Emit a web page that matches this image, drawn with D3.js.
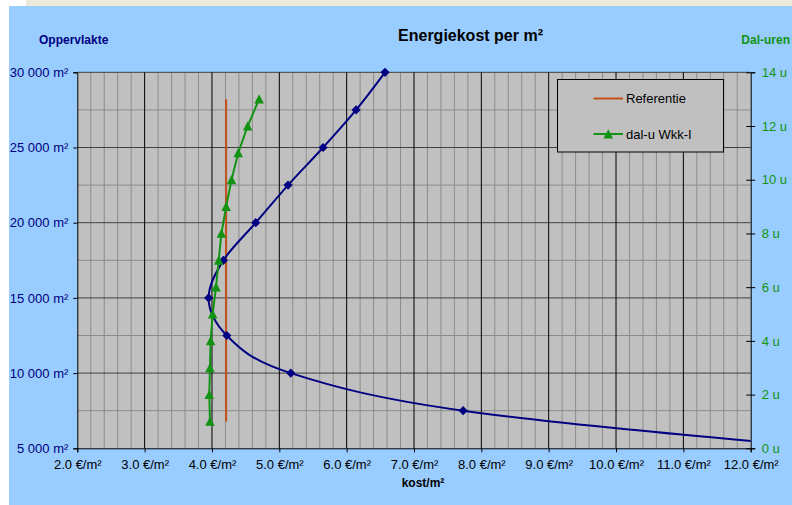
<!DOCTYPE html>
<html>
<head>
<meta charset="utf-8">
<script src="https://cdn.jsdelivr.net/npm/d3@7"></script>
<style>
  body { margin: 0; background: #fff; }
  svg { display: block; font-family: "Liberation Sans", Arial, sans-serif; }
</style>
</head>
<body>
<div class="chart"></div>
<script>
// axis ticks
const costTicks = [2, 3, 4, 5, 6, 7, 8, 9, 10, 11, 12];
const areaTicks = [5000, 10000, 15000, 20000, 25000, 30000];
const hourTicks = [0, 2, 4, 6, 8, 10, 12, 14];

// energiekost curve (left axis, m²) - last point lies off the chart to the right
const kostArea = [5000, 7500, 10000, 12500, 15000, 17500, 20000, 22500, 25000, 27500, 30000];
const kostValue = [13.2, 7.73, 5.17, 4.22, 3.95, 4.17, 4.65, 5.13, 5.65, 6.14, 6.57];

// dal-u Wkk-I (right axis, uren)
const dalHours = [1, 2, 3, 4, 5, 6, 7, 8, 9, 10, 11, 12, 13];
const dalCost = [3.97, 3.96, 3.97, 3.98, 4.01, 4.06, 4.10, 4.14, 4.21, 4.29, 4.39, 4.53, 4.70];

// Referentie (right axis)
const refHours = [1, 13];
const refCost = [4.21, 4.21];

const W = 792, H = 505;
const plot = { left: 77.3, right: 750.7, top: 72.3, bottom: 448.3 };

const navy = '#000080';
const green = '#139313';
const orange = '#C4501A';

const svg = d3.select('.chart').append('svg')
  .attr('width', W)
  .attr('height', H);

// frame like the sheet it came from
svg.append('rect').attr('x', 26).attr('y', 0).attr('width', W - 26).attr('height', 6).attr('fill', '#ECE9D8');
svg.append('rect').attr('x', 9).attr('y', 6).attr('width', W - 9).attr('height', H - 6).attr('fill', '#99CCFF');

const x = d3.scaleLinear().domain([2, 12]).range([plot.left, plot.right]);
const yL = d3.scaleLinear().domain([5000, 30000]).range([plot.bottom, plot.top]);
const yR = d3.scaleLinear().domain([0, 14]).range([plot.bottom, plot.top]);

svg.append('rect')
  .attr('x', plot.left).attr('y', plot.top)
  .attr('width', plot.right - plot.left).attr('height', plot.bottom - plot.top)
  .attr('fill', '#C0C0C0');

// grid
const grid = svg.append('g');
const minorX = d3.range(20, 121, 2).map(d => d / 10).filter(d => d % 1 !== 0);
grid.selectAll('.vminor').data(minorX).enter().append('line')
  .attr('x1', d => x(d)).attr('x2', d => x(d))
  .attr('y1', plot.top).attr('y2', plot.bottom)
  .attr('stroke', '#8c8c8c').attr('stroke-width', 1);
const hLines = d3.range(7500, 30001, 2500);
grid.selectAll('.h').data(hLines).enter().append('line')
  .attr('x1', plot.left).attr('x2', plot.right)
  .attr('y1', d => yL(d)).attr('y2', d => yL(d))
  .attr('stroke', d => d % 5000 === 0 ? '#404040' : '#8c8c8c').attr('stroke-width', 1);
grid.selectAll('.vmajor').data(costTicks.slice(1, -1)).enter().append('line')
  .attr('x1', d => x(d)).attr('x2', d => x(d))
  .attr('y1', plot.top).attr('y2', plot.bottom)
  .attr('stroke', '#000').attr('stroke-width', 1);

// axes
const fmtArea = d3.formatLocale({ decimal: '.', thousands: ' ', grouping: [3], currency: ['', ''] }).format(',');

const left = svg.append('g').attr('transform', `translate(${plot.left},0)`)
  .call(d3.axisLeft(yL).tickValues(areaTicks).tickSize(4).tickPadding(5).tickFormat(d => fmtArea(d) + ' m²'));
left.selectAll('text').attr('fill', navy).style('font-size', '13px');

const bottom = svg.append('g').attr('transform', `translate(0,${plot.bottom})`)
  .call(d3.axisBottom(x).tickValues(costTicks).tickSize(4).tickPadding(7.5).tickFormat(d => d.toFixed(1) + ' €/m²'));
bottom.selectAll('text').attr('fill', '#000').style('font-size', '13px');

const right = svg.append('g').attr('transform', `translate(${plot.right},0)`)
  .call(d3.axisRight(yR).tickValues(hourTicks).tickSize(4.5).tickPadding(6.5).tickFormat(d => d + ' u'));
right.selectAll('line').attr('x1', -4.5);
right.selectAll('text').attr('fill', green).style('font-size', '13px');

[left, bottom, right].forEach(g => {
  g.select('.domain').attr('stroke', '#000');
  g.selectAll('line').attr('stroke', '#000');
});

// series
svg.append('clipPath').attr('id', 'plotclip').append('rect')
  .attr('x', plot.left).attr('y', plot.top)
  .attr('width', plot.right - plot.left).attr('height', plot.bottom - plot.top);

const kost = kostArea.map((a, i) => ({ a: a, c: kostValue[i] }));
const dal = dalHours.map((h, i) => ({ h: h, c: dalCost[i] }));
const ref = refHours.map((h, i) => ({ h: h, c: refCost[i] }));

const lines = svg.append('g').attr('clip-path', 'url(#plotclip)');

lines.append('path')
  .attr('d', d3.line().x(d => x(d.c)).y(d => yR(d.h))(ref))
  .attr('fill', 'none').attr('stroke', orange).attr('stroke-width', 2);

lines.append('path')
  .attr('d', d3.line().x(d => x(d.c)).y(d => yL(d.a)).curve(d3.curveMonotoneY)(kost))
  .attr('fill', 'none').attr('stroke', navy).attr('stroke-width', 2);

const diamond = 'M0,-4.6L4.6,0L0,4.6L-4.6,0Z';
svg.append('g').selectAll('path')
  .data(kost.filter(d => d.c <= 12))
  .enter().append('path')
  .attr('transform', d => `translate(${x(d.c)},${yL(d.a)})`)
  .attr('d', diamond)
  .attr('fill', navy);

lines.append('path')
  .attr('d', d3.line().x(d => x(d.c)).y(d => yR(d.h))(dal))
  .attr('fill', 'none').attr('stroke', green).attr('stroke-width', 2);

const triangle = 'M0,-4.8L4.8,4.4L-4.8,4.4Z';
svg.append('g').selectAll('path')
  .data(dal)
  .enter().append('path')
  .attr('transform', d => `translate(${x(d.c)},${yR(d.h)})`)
  .attr('d', triangle)
  .attr('fill', green);

// titles
svg.append('text').attr('x', 470.5).attr('y', 41).attr('text-anchor', 'middle')
  .style('font-size', '16px').style('font-weight', 'bold').attr('fill', '#000')
  .text('Energiekost per m²');
svg.append('text').attr('x', 39).attr('y', 44)
  .style('font-size', '12px').style('font-weight', 'bold').attr('fill', navy)
  .text('Oppervlakte');
svg.append('text').attr('x', 790).attr('y', 44).attr('text-anchor', 'end')
  .style('font-size', '12px').style('font-weight', 'bold').attr('fill', green)
  .text('Dal-uren');
svg.append('text').attr('x', 423).attr('y', 487).attr('text-anchor', 'middle')
  .style('font-size', '12px').style('font-weight', 'bold').attr('fill', '#000')
  .text('kost/m²');

// legend
const legend = svg.append('g');
legend.append('rect')
  .attr('x', 557.5).attr('y', 79.5).attr('width', 166).attr('height', 72.5)
  .attr('fill', '#C0C0C0').attr('stroke', '#000').attr('stroke-width', 1);
const legendItems = [
  { name: 'Referentie', color: orange, y: 98.5, marker: null },
  { name: 'dal-u Wkk-I', color: green, y: 134, marker: triangle }
];
legendItems.forEach(it => {
  legend.append('line')
    .attr('x1', 593.5).attr('x2', 623).attr('y1', it.y).attr('y2', it.y)
    .attr('stroke', it.color).attr('stroke-width', 2);
  if (it.marker) {
    legend.append('path').attr('d', it.marker)
      .attr('transform', `translate(608.3,${it.y})`).attr('fill', it.color);
  }
  legend.append('text').attr('x', 626).attr('y', it.y + 4.5)
    .style('font-size', '13px').attr('fill', '#000')
    .text(it.name);
});
</script>
</body>
</html>
